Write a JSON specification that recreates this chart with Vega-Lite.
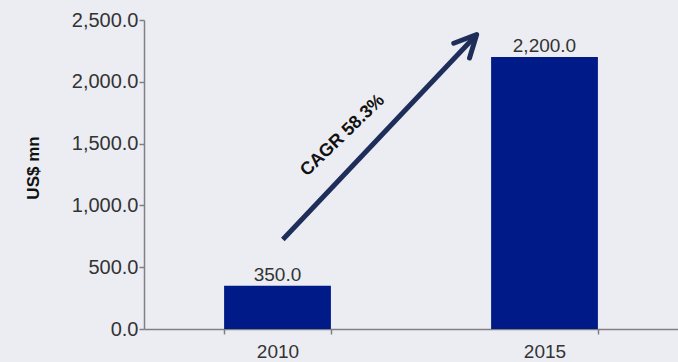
{
  "$schema": "https://vega.github.io/schema/vega-lite/v6.json",
  "width": 534,
  "height": 309,
  "autosize": "none",
  "padding": {"left": 144, "top": 20, "right": 0, "bottom": 33},
  "background": "#ecedf3",
  "config": {
    "view": {"stroke": null},
    "font": "Liberation Sans",
    "axis": {
      "domainColor": "#808080",
      "domainWidth": 1.5,
      "tickColor": "#808080",
      "tickWidth": 1.5,
      "tickSize": 5,
      "grid": false,
      "labelColor": "#333333",
      "labelFont": "Liberation Sans"
    }
  },
  "datasets": {
    "bars": [
      {"year": "2010", "value": 350},
      {"year": "2015", "value": 2200}
    ],
    "arrow": [
      {"x": 2010.1, "y": 724, "x2": 2013.68, "y2": 2359}
    ],
    "head": [
      {"x": 2013.73, "y": 2383}
    ],
    "note": [
      {"x": 2011.22, "y": 1565, "label": "CAGR 58.3%"}
    ]
  },
  "resolve": {"scale": {"x": "independent"}},
  "layer": [
    {
      "data": {"name": "bars"},
      "mark": {"type": "bar", "color": "#001a87"},
      "encoding": {
        "x": {
          "field": "year",
          "type": "nominal",
          "scale": {"paddingInner": 0.6, "paddingOuter": 0.3},
          "axis": {
            "title": null,
            "labelAngle": 0,
            "labelFontSize": 19,
            "labelPadding": 8,
            "tickBand": "extent"
          }
        },
        "y": {
          "field": "value",
          "type": "quantitative",
          "scale": {"domain": [0, 2500], "nice": false, "padding": 0},
          "axis": {
            "values": [0, 500, 1000, 1500, 2000, 2500],
            "format": ",.1f",
            "labelFontSize": 20,
            "labelPadding": 1,
            "title": "US$ mn",
            "titleFontSize": 17,
            "titleFontWeight": "bold",
            "titleColor": "#111111",
            "titleX": -111,
            "titleY": 147.5,
            "titleAngle": -90,
            "titleAlign": "center",
            "titleBaseline": "middle"
          }
        }
      }
    },
    {
      "data": {"name": "bars"},
      "mark": {"type": "text", "baseline": "alphabetic", "dy": -5, "fontSize": 19, "color": "#333333"},
      "encoding": {
        "x": {"field": "year", "type": "nominal", "scale": {"paddingInner": 0.6, "paddingOuter": 0.3}, "axis": null},
        "y": {"field": "value", "type": "quantitative", "scale": {"domain": [0, 2500], "nice": false, "padding": 0}},
        "text": {"field": "value", "type": "quantitative", "format": ",.1f"}
      }
    },
    {
      "data": {"name": "arrow"},
      "mark": {"type": "rule", "color": "#1e2d5a", "strokeWidth": 5},
      "encoding": {
        "x": {"field": "x", "type": "quantitative", "scale": {"domain": [2007.5, 2017.5], "nice": false, "zero": false}, "axis": null},
        "x2": {"field": "x2"},
        "y": {"field": "y", "type": "quantitative", "scale": {"domain": [0, 2500], "nice": false, "padding": 0}},
        "y2": {"field": "y2"}
      }
    },
    {
      "data": {"name": "head"},
      "mark": {
        "type": "point",
        "shape": "M -0.44 0.9 L 0 0 L 0.44 0.9",
        "filled": false,
        "size": 2400,
        "angle": 43,
        "stroke": "#1e2d5a",
        "strokeWidth": 5,
        "strokeCap": "round",
        "strokeJoin": "round",
        "opacity": 1
      },
      "encoding": {
        "x": {"field": "x", "type": "quantitative", "scale": {"domain": [2007.5, 2017.5], "nice": false, "zero": false}, "axis": null},
        "y": {"field": "y", "type": "quantitative", "scale": {"domain": [0, 2500], "nice": false, "padding": 0}}
      }
    },
    {
      "data": {"name": "note"},
      "mark": {"type": "text", "angle": -44, "fontSize": 18, "fontWeight": "bold", "color": "#111111", "align": "center", "baseline": "middle"},
      "encoding": {
        "x": {"field": "x", "type": "quantitative", "scale": {"domain": [2007.5, 2017.5], "nice": false, "zero": false}, "axis": null},
        "y": {"field": "y", "type": "quantitative", "scale": {"domain": [0, 2500], "nice": false, "padding": 0}},
        "text": {"field": "label", "type": "nominal"}
      }
    }
  ]
}
